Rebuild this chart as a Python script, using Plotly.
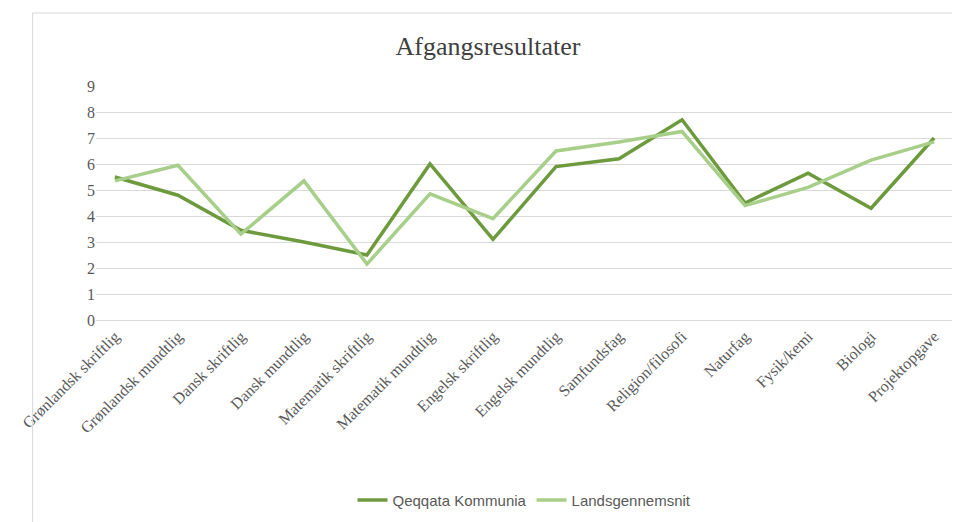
import plotly.graph_objects as go

categories = ["Grønlandsk skriftlig", "Grønlandsk mundtlig", "Dansk skriftlig", "Dansk mundtlig",
              "Matematik skriftlig", "Matematik mundtlig", "Engelsk skriftlig", "Engelsk mundtlig",
              "Samfundsfag", "Religion/filosofi", "Naturfag", "Fysik/kemi", "Biologi", "Projektopgave"]
qeqqata = [5.5, 4.8, 3.45, 3.0, 2.5, 6.0, 3.1, 5.9, 6.2, 7.7, 4.5, 5.65, 4.3, 7.0]
lands = [5.35, 5.95, 3.3, 5.35, 2.15, 4.85, 3.9, 6.5, 6.85, 7.25, 4.4, 5.1, 6.15, 6.85]

fig = go.Figure()
fig.add_trace(go.Scatter(x=categories, y=qeqqata, name="Qeqqata Kommunia", mode="lines",
                         line=dict(color="#6E9A3E", width=3.5)))
fig.add_trace(go.Scatter(x=categories, y=lands, name="Landsgennemsnit", mode="lines",
                         line=dict(color="#A8CF8A", width=3.5)))

fig.update_layout(
    width=960, height=522,
    paper_bgcolor="white", plot_bgcolor="white",
    margin=dict(l=70, r=15, t=78, b=210),
    title=dict(text="Afgangsresultater", x=0.5, y=0.927, xanchor="center", yanchor="middle",
               font=dict(family="Liberation Serif", size=26, color="#404040")),
    font=dict(family="Liberation Serif", size=16, color="#595959"),
    legend=dict(orientation="h", x=0.5, xanchor="center", y=-0.77, yanchor="middle",
                font=dict(family="Liberation Sans", size=15, color="#595959")),
    xaxis=dict(tickangle=-45, showgrid=False, showline=True, linecolor="#D9D9D9",
               ticks="", range=[-0.3, 13.3]),
    yaxis=dict(range=[0, 9], dtick=1, gridcolor="#D9D9D9", zeroline=False,
               showline=False, ticks=""),
    shapes=[dict(type="rect", xref="paper", yref="paper", x0=-0.074, x1=1.011, y0=-0.876, y1=1.312,
                 line=dict(color="#D9D9D9", width=1))],
)

fig.write_html("out.html")
